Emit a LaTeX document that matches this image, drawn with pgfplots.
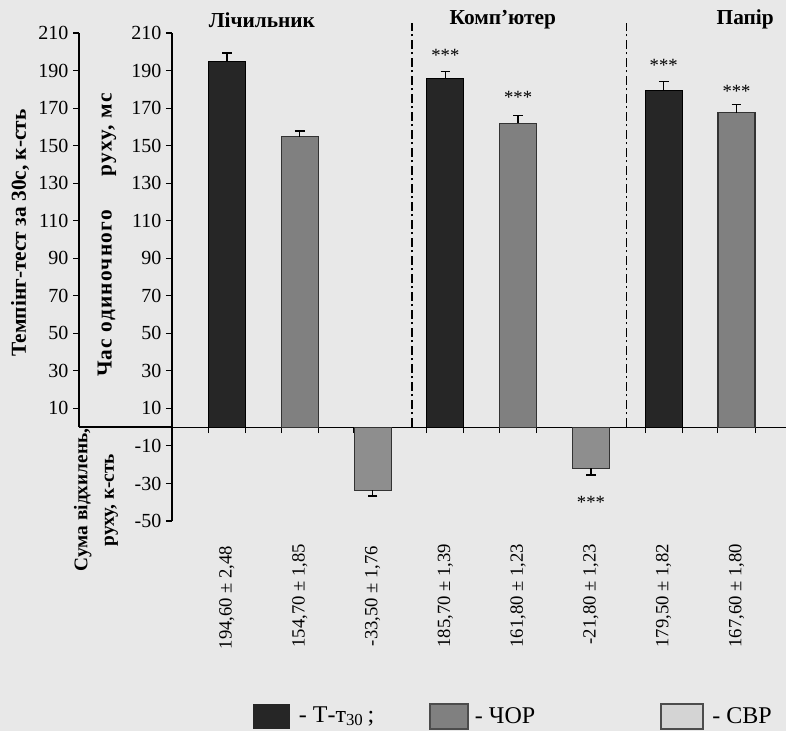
\documentclass[border=0pt]{standalone}
\usepackage{fontspec}
\setmainfont{Liberation Serif}
\usepackage{pgfplots}
\pgfplotsset{compat=1.18}
\definecolor{bgpaper}{RGB}{232,232,232}
\definecolor{tdark}{RGB}{38,38,38}
\definecolor{chor}{RGB}{128,128,128}
\definecolor{svr}{RGB}{142,142,142}
\definecolor{svrleg}{RGB}{212,212,212}
\pgfplotsset{
  every axis/.append style={
    scale only axis,
    anchor=south west,
    tick align=outside,
    major tick length=4.5pt,
    axis line style={line width=0.9pt},
    every tick/.style={black,line width=0.8pt},
    tick label style={font=\fontsize{15}{15}\selectfont},
    /pgf/number format/assume math mode=true,
  },
}
\begin{document}
\begin{tikzpicture}
\useasboundingbox (0,0) rectangle (589.5pt,-548.25pt);
\fill[bgpaper] (0,0) rectangle (589.5pt,-548.25pt);

% left axis: tapping test
\begin{axis}[
    at={(59.25pt,-320.25pt)},
    width=69.75pt, height=295.5pt,
    xmin=0, xmax=1, ymin=0, ymax=210,
    axis y line*=left, axis x line*=bottom,
    xtick=\empty,
    ytick={10,30,...,210},
  ]
\end{axis}

% main axis
\begin{axis}[
    at={(129pt,-390.75pt)},
    width=460.5pt, height=366pt,
    xmin=-0.755, xmax=7.68, ymin=-50, ymax=210,
    axis y line*=left, axis x line*=middle,
    clip=false,
    ybar, bar width=27.75pt, bar shift=0pt,
    ytick={-50,-30,...,210},
    xtick={-0.255,0.255,0.745,1.255,1.745,2.255,2.745,3.255,3.745,4.255,4.745,5.255,5.745,6.255,6.745,7.255},
    xticklabels={},
    error bars/error bar style={line width=1.1pt,black},
    error bars/error mark options={rotate=90,mark size=3.6pt,line width=1.1pt,black},
  ]
  % T-t30
  \addplot[fill=tdark, draw=black, line width=0.8pt,
    error bars/.cd, y dir=plus, y explicit]
    coordinates {(0,194.6) +- (0,4.8) (3,185.7) +- (0,3.7) (6,179.5) +- (0,4.8)};
  % ЧОР
  \addplot[fill=chor, draw=black!80, line width=0.8pt,
    error bars/.cd, y dir=plus, y explicit]
    coordinates {(1,154.7) +- (0,3.2) (4,161.8) +- (0,4.3) (7,167.6) +- (0,4.3)};
  % СВР
  \addplot[fill=svr, draw=black!80, line width=0.8pt,
    error bars/.cd, y dir=minus, y explicit]
    coordinates {(2,-33.5) +- (0,3.3) (5,-21.8) +- (0,3.7)};

  % group separators
  \draw[line width=1pt, dash pattern=on 7pt off 2.5pt on 1.5pt off 2.5pt]
    (axis cs:2.54,0) -- (axis cs:2.54,215.5);
  \draw[line width=1pt, dash pattern=on 7pt off 2.5pt on 1.5pt off 2.5pt]
    (axis cs:5.49,0) -- (axis cs:5.49,215.5);

  % group titles
  \begin{scope}[every node/.style={font=\bfseries\fontsize{16}{16}\selectfont}]
    \node at (axis cs:0.48,217) {Лічильник};
    \node at (axis cs:3.79,217) {Комп’ютер};
    \node at (axis cs:7.12,217) {Папір};
  \end{scope}

  % significance marks
  \begin{scope}[every node/.style={font=\fontsize{14}{14}\selectfont}]
    \node at (axis cs:3,198) {***};
    \node at (axis cs:4,175.5) {***};
    \node at (axis cs:5,-40) {***};
    \node at (axis cs:6,192.5) {***};
    \node at (axis cs:7,179) {***};
  \end{scope}

  % value labels
  \begin{scope}[every node/.style={rotate=90, anchor=east, inner sep=0pt, font=\fontsize{14}{14}\selectfont}]
    \node at (axis cs:0,-63) {194,60 ± 2,48};
    \node at (axis cs:1,-62) {154,70 ± 1,85};
    \node at (axis cs:2,-63) {-33,50 ± 1,76};
    \node at (axis cs:3,-62) {185,70 ± 1,39};
    \node at (axis cs:4,-62) {161,80 ± 1,23};
    \node at (axis cs:5,-62) {-21,80 ± 1,23};
    \node at (axis cs:6,-62) {179,50 ± 1,82};
    \node at (axis cs:7,-62) {167,60 ± 1,80};
  \end{scope}
\end{axis}

% axis titles
\node[rotate=90, font=\bfseries\fontsize{16}{16}\selectfont]
  at (15pt,-174.75pt) {Темпінг-тест за 30с, к-сть};
\node[rotate=90, font=\bfseries\fontsize{16}{16}\selectfont\addfontfeature{LetterSpace=6}]
  at (80.25pt,-176.25pt) {Час одиночного\hspace{1.6em}руху, мс};
\node[rotate=90, align=center, font=\bfseries\fontsize{14.5}{20}\selectfont]
  at (72pt,-375pt) {Сума відхилень,\\руху, к-сть};

% legend
\fill[tdark] (189.75pt,-528pt) rectangle (217.5pt,-546.75pt);
\node[anchor=west, inner sep=0pt, font=\fontsize{18}{18}\selectfont]
  at (224pt,-537pt) {- Т-т\textsubscript{30}\,;};
\filldraw[fill=chor, draw=black!70, line width=0.8pt] (322.5pt,-528pt) rectangle (351pt,-546.75pt);
\node[anchor=west, inner sep=0pt, font=\fontsize{18}{18}\selectfont]
  at (356pt,-537pt) {- ЧОР};
\filldraw[fill=svrleg, draw=black!70, line width=0.8pt] (495.75pt,-528pt) rectangle (527.25pt,-546.75pt);
\node[anchor=west, inner sep=0pt, font=\fontsize{18}{18}\selectfont]
  at (534pt,-537pt) {- СВР};
\end{tikzpicture}
\end{document}
